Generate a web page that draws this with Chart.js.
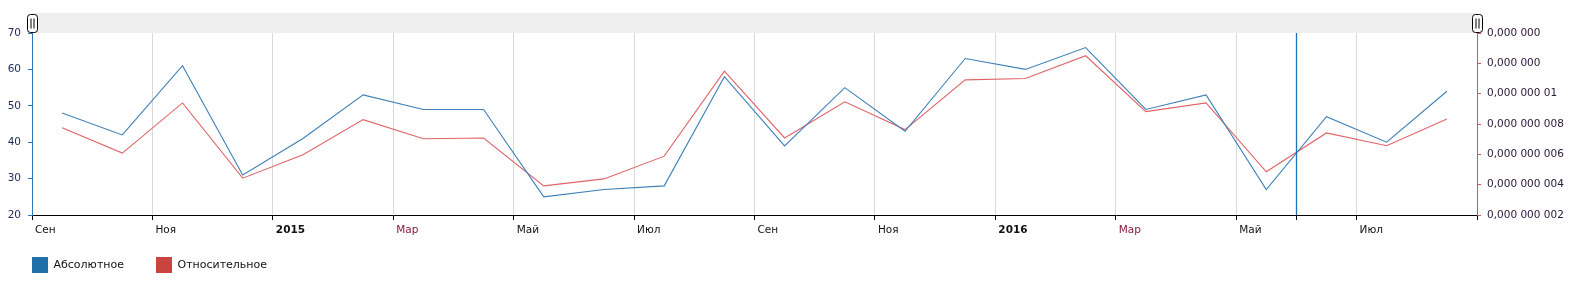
<!DOCTYPE html>
<html>
<head>
<meta charset="utf-8">
<script src="https://cdn.jsdelivr.net/npm/chart.js@4.4.1/dist/chart.umd.min.js"></script>
<style>
html,body{margin:0;padding:0;background:#fff;}
#wrap{width:1576px;height:287px;}
</style>
</head>
<body>
<div id="wrap"><canvas id="c" width="1576" height="287"></canvas></div>
<script>
// Months Sep 2014 .. Aug 2016
const months = ['2014-09','2014-10','2014-11','2014-12','2015-01','2015-02','2015-03','2015-04','2015-05','2015-06','2015-07','2015-08',
                '2015-09','2015-10','2015-11','2015-12','2016-01','2016-02','2016-03','2016-04','2016-05','2016-06','2016-07','2016-08'];
const absoluteValues = [48,42,61,31,41,53,49,49,25,27,28,58,39,55,43,63,60,66,49,53,27,47,40,54];
// relative values, in units of 1e-9
const relativeValuesNano = [7.76,6.08,9.39,4.43,5.97,8.29,7.03,7.08,3.92,4.38,5.88,11.48,7.08,9.46,7.63,10.91,11.0,12.5,8.82,9.39,4.85,7.41,6.57,8.33];
const xTickLabels = ['Сен','Ноя','2015','Мар','Май','Июл','Сен','Ноя','2016','Мар','Май','Июл',''];
const rightTickLabels = ['0,000 000 002','0,000 000 004','0,000 000 006','0,000 000 008','0,000 000 01','0,000 000','0,000 000'];
const seriesNames = ['Абсолютное','Относительное'];
const cursorMonth = 21;

const FONT = "'DejaVu Sans', Verdana, sans-serif";
const legendColors = ['#1f6fab','#c9433f'];

const absPts = absoluteValues.map((v,i)=>({x:i+0.5,y:v}));
const relPts = relativeValuesNano.map((v,i)=>({x:i+0.5,y:v}));

function rr(ctx,x,y,w,h,r){
  ctx.beginPath();
  ctx.moveTo(x+r,y);ctx.lineTo(x+w-r,y);ctx.quadraticCurveTo(x+w,y,x+w,y+r);
  ctx.lineTo(x+w,y+h-r);ctx.quadraticCurveTo(x+w,y+h,x+w-r,y+h);
  ctx.lineTo(x+r,y+h);ctx.quadraticCurveTo(x,y+h,x,y+h-r);
  ctx.lineTo(x,y+r);ctx.quadraticCurveTo(x,y,x+r,y);ctx.closePath();
}
function handle(ctx,cx){
  const w=10,h=18,x=Math.round(cx-w/2)+0.5,y=14.5;
  rr(ctx,x,y,w,h,3);
  ctx.fillStyle='#fff';ctx.fill();
  ctx.strokeStyle='#000';ctx.lineWidth=1;ctx.stroke();
  ctx.beginPath();
  ctx.moveTo(x+3.5,y+4);ctx.lineTo(x+3.5,y+h-4);
  ctx.moveTo(x+6.5,y+4);ctx.lineTo(x+6.5,y+h-4);
  ctx.stroke();
}

const decor = {
  id:'decor',
  afterLayout(chart){
    // let x tick labels draw below the (compact) axis box without being clipped
    const xs=chart.scales.x;
    xs.bottom = xs.top + 24;
    xs.height = 24;
  },
  beforeDraw(chart){
    const {ctx,chartArea:a}=chart;
    ctx.save();
    ctx.fillStyle='#efefef';
    ctx.fillRect(a.left,13,a.right-a.left,a.top-13);
    ctx.restore();
  },
  afterDatasetsDraw(chart){
    const {ctx,chartArea:a}=chart;
    const xs=chart.scales.x;
    const px=Math.round(xs.getPixelForValue(cursorMonth))+0.5;
    ctx.save();
    ctx.strokeStyle='#1f72b8';ctx.lineWidth=1.3;
    ctx.beginPath();ctx.moveTo(px,a.top);ctx.lineTo(px,a.bottom);ctx.stroke();
    ctx.strokeStyle='#000';ctx.lineWidth=1;
    ctx.beginPath();ctx.moveTo(px,a.bottom);ctx.lineTo(px,a.bottom+5);ctx.stroke();
    ctx.restore();
  },
  afterDraw(chart){
    const {ctx,chartArea:a}=chart;
    ctx.save();
    handle(ctx,a.left);
    handle(ctx,a.right);
    ctx.restore();
  }
};

new Chart(document.getElementById('c'),{
  type:'line',
  data:{
    datasets:[
      {label:seriesNames[0],data:absPts,yAxisID:'y',borderColor:'#3d80b8',backgroundColor:legendColors[0],borderWidth:1.1,pointRadius:0,tension:0},
      {label:seriesNames[1],data:relPts,yAxisID:'y1',borderColor:'#e06467',backgroundColor:legendColors[1],borderWidth:1.1,pointRadius:0,tension:0}
    ]
  },
  options:{
    responsive:false,
    animation:false,
    layout:{padding:{top:33,bottom:4,left:0,right:0}},
    plugins:{
      tooltip:{enabled:false},
      legend:{
        position:'bottom',align:'start',
        labels:{
          font:{family:FONT,size:11},color:'#111',
          boxWidth:16,boxHeight:16,padding:32,
          generateLabels(chart){
            const items=Chart.defaults.plugins.legend.labels.generateLabels(chart);
            items.sort((a,b)=>a.datasetIndex-b.datasetIndex);
            items.forEach((it)=>{const c=legendColors[it.datasetIndex];it.fillStyle=c;it.strokeStyle=c;it.lineWidth=0;});
            return items;
          }
        }
      }
    },
    scales:{
      x:{
        type:'linear',min:0,max:24,
        afterFit(s){s.height=10;},
        grid:{color:'#d9d9d9',tickColor:'#000',tickLength:5,drawOnChartArea:true},
        border:{color:'#000',width:1},
        ticks:{
          stepSize:2,autoSkip:false,maxRotation:0,align:'start',labelOffset:3,padding:4,
          callback:(v)=>xTickLabels[Math.round(v/2)],
          font:(ctx)=>({family:FONT,size:10.5,weight:(ctx.tick&&/^\d{4}$/.test(ctx.tick.label))?'bold':'normal'}),
          color:(ctx)=>(ctx.tick&&ctx.tick.label==='Мар')?'#8a1a40':'#111'
        }
      },
      y:{
        position:'left',min:20,max:70,
        afterFit(s){s.width=32;},
        grid:{drawOnChartArea:false,tickColor:'#2a78b8',tickLength:4},
        border:{color:'#2a78b8',width:1},
        ticks:{stepSize:10,padding:7,font:{family:FONT,size:10.5},color:'#1d2a55'}
      },
      y1:{
        position:'right',min:2,max:14,
        afterFit(s){s.width=99;},
        grid:{drawOnChartArea:false,tickColor:'#d9534f',tickLength:4},
        border:{color:'#d9534f',width:1},
        ticks:{stepSize:2,padding:6,font:{family:FONT,size:10.5},color:'#2a1838',
          callback:(v)=>rightTickLabels[Math.round((v-2)/2)]}
      }
    }
  },
  plugins:[decor]
});
</script>
</body>
</html>
